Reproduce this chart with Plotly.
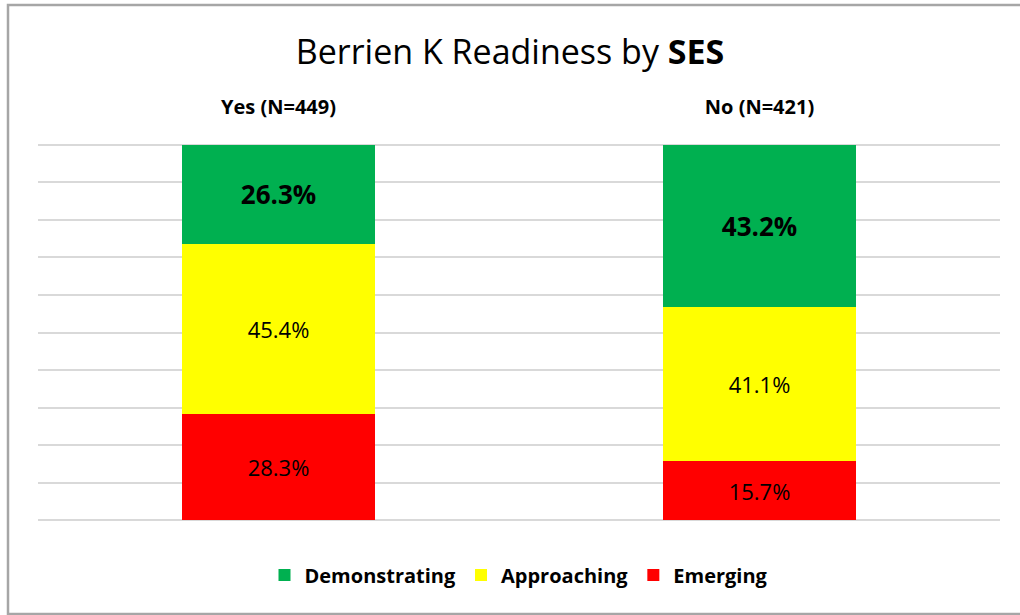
import plotly.graph_objects as go

categories = ["Yes (N=449)", "No (N=421)"]
emerging = [28.3, 15.7]
approaching = [45.4, 41.1]
demonstrating = [26.3, 43.2]

FONT = "Open Sans"

fig = go.Figure()
fig.add_trace(go.Bar(x=categories, y=emerging, name="<b>Emerging</b>", marker_color="#ff0000",
                     texttemplate="%{y:.1f}%", textposition="inside", insidetextanchor="middle",
                     textangle=0, textfont=dict(size=22, color="black", family=FONT)))
fig.add_trace(go.Bar(x=categories, y=approaching, name="<b>Approaching</b>", marker_color="#ffff00",
                     texttemplate="%{y:.1f}%", textposition="inside", insidetextanchor="middle",
                     textangle=0, textfont=dict(size=22, color="black", family=FONT)))
fig.add_trace(go.Bar(x=categories, y=demonstrating, name="<b>Demonstrating</b>", marker_color="#00b050",
                     texttemplate="<b>%{y:.1f}%</b>", textposition="inside", insidetextanchor="middle",
                     textangle=0, textfont=dict(size=26, color="black", family=FONT)))

fig.update_traces(marker_line_width=0)

T, B = 141, 91
PH = 615 - T - B

fig.update_layout(
    width=1020, height=615,
    barmode="stack", bargap=0.6,
    paper_bgcolor="white", plot_bgcolor="white",
    margin=dict(l=38, r=20, t=T, b=B, autoexpand=False),
    font=dict(family=FONT, color="black"),
    title=dict(text="Berrien K Readiness by <b>SES</b>", x=0.5, xanchor="center",
               y=1 - 52 / 615, yanchor="middle", font=dict(size=34, family=FONT)),
    xaxis=dict(side="top", showgrid=False, showline=False, ticks="", automargin=False,
               tickvals=categories, ticktext=["<b>%s</b>" % c for c in categories],
               tickfont=dict(size=20, family=FONT), ticklabelstandoff=22),
    yaxis=dict(range=[-1, 101], tickvals=list(range(0, 101, 10)), showticklabels=False,
               showgrid=True, automargin=False,
               gridcolor="#d9d9d9", gridwidth=2, zeroline=False, showline=False),
    legend=dict(orientation="h", x=0.5, xanchor="center", y=(524 - 575) / PH, yanchor="middle",
                traceorder="reversed", font=dict(size=20, family=FONT)),
    showlegend=True,
)

fig.add_shape(type="rect", xref="paper", yref="paper",
              x0=(8 - 38) / 962, x1=(1030 - 38) / 962,
              y0=(524 - 614) / PH, y1=(524 - 5) / PH,
              line=dict(color="#a6a6a6", width=2.5), fillcolor="rgba(0,0,0,0)", layer="below")

fig.write_html("out.html", config={"displayModeBar": False},
               post_script="document.body.style.margin='0';")
